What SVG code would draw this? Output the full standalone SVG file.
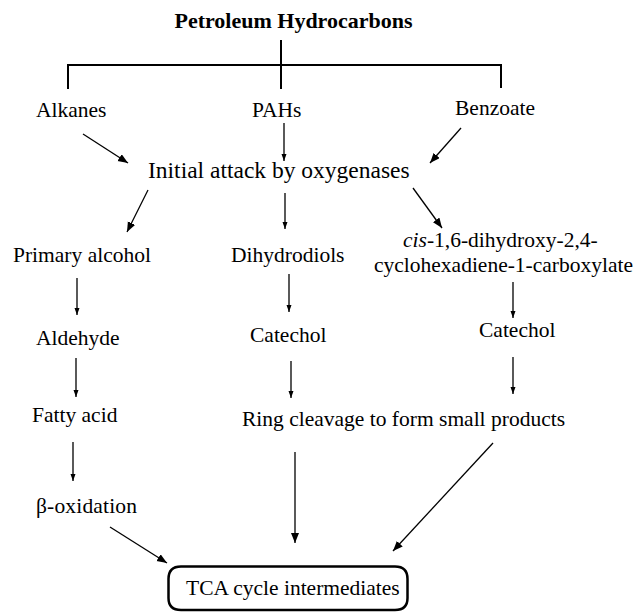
<svg xmlns="http://www.w3.org/2000/svg" width="634" height="612" viewBox="0 0 634 612">
<style>
text{font-family:"Liberation Serif","Times New Roman",serif;font-size:21.5px;fill:#000}
.title{font-weight:bold;font-size:22px}
.big{font-size:23.5px}
.br{fill:none;stroke:#000;stroke-width:2}
.ar{fill:none;stroke:#000;stroke-width:1.3}
.d{marker-end:url(#hb)}
.v{marker-end:url(#hs)}
</style>
<defs>
<marker id="hb" markerUnits="userSpaceOnUse" markerWidth="11" markerHeight="9" refX="10" refY="4" orient="auto"><path d="M0,0 L10,4 L0,8 Z" fill="#000"/></marker>
<marker id="hs" markerUnits="userSpaceOnUse" markerWidth="8" markerHeight="6" refX="7" refY="2.5" orient="auto"><path d="M0,0 L7,2.5 L0,5 Z" fill="#000"/></marker>
</defs>
<rect width="634" height="612" fill="#fff"/>
<g id="connectors">
<path class="br" d="M281 40 V65 M68 89 V65 H501 V88 M281 65 V89"/>
<line class="ar d" x1="83" y1="134" x2="128" y2="163"/>
<line class="ar v" x1="284" y1="123" x2="284" y2="161"/>
<line class="ar d" x1="461" y1="128" x2="430" y2="163"/>
<line class="ar d" x1="148" y1="190" x2="127" y2="232"/>
<line class="ar v" x1="285" y1="193" x2="285" y2="229"/>
<line class="ar d" x1="413" y1="188" x2="442" y2="228"/>
<line class="ar v" x1="77" y1="278" x2="77" y2="315"/>
<line class="ar v" x1="289" y1="274" x2="289" y2="312"/>
<line class="ar v" x1="513" y1="282" x2="513" y2="318"/>
<line class="ar v" x1="76" y1="358" x2="76" y2="397"/>
<line class="ar v" x1="291" y1="361" x2="291" y2="398"/>
<line class="ar v" x1="513" y1="357" x2="513" y2="394"/>
<line class="ar v" x1="73" y1="442" x2="73" y2="481"/>
<line class="ar d" x1="110" y1="527" x2="167" y2="563"/>
<line class="ar d" x1="295" y1="452" x2="295" y2="543"/>
<line class="ar d" x1="493" y1="443" x2="393" y2="551"/>
</g>
<g id="title"><text class="title" x="293.5" y="28" text-anchor="middle">Petroleum Hydrocarbons</text></g>
<g id="alkanes"><text x="36" y="117">Alkanes</text></g>
<g id="pahs"><text x="252" y="117">PAHs</text></g>
<g id="benzoate"><text x="455" y="115">Benzoate</text></g>
<g id="initial"><text class="big" x="148" y="178">Initial attack by oxygenases</text></g>
<g id="primary-alcohol"><text x="13" y="262">Primary alcohol</text></g>
<g id="dihydrodiols"><text x="231" y="262">Dihydrodiols</text></g>
<g id="cis"><text x="403" y="247"><tspan font-style="italic">cis</tspan>-1,6-dihydroxy-2,4-</text><text x="374" y="272">cyclohexadiene-1-carboxylate</text></g>
<g id="aldehyde"><text x="36" y="345">Aldehyde</text></g>
<g id="catechol-1"><text x="250" y="342">Catechol</text></g>
<g id="catechol-2"><text x="479" y="337">Catechol</text></g>
<g id="fatty-acid"><text x="32" y="422">Fatty acid</text></g>
<g id="ring-cleavage"><text x="242" y="426">Ring cleavage to form small products</text></g>
<g id="beta-oxidation"><text x="36" y="513" textLength="101" lengthAdjust="spacing">β-oxidation</text></g>
<g id="tca">
<path d="M181 566.5 L395 566.5 Q407.5 566.5 407.5 579 L407.5 598 Q407.5 610 395 610 L181 610 Q168.5 610 168.5 598 L168.5 579 Q168.5 566.5 181 566.5 Z" fill="none" stroke="#000" stroke-width="2.5"/>
<text x="186" y="595">TCA cycle intermediates</text>
</g>
</svg>
